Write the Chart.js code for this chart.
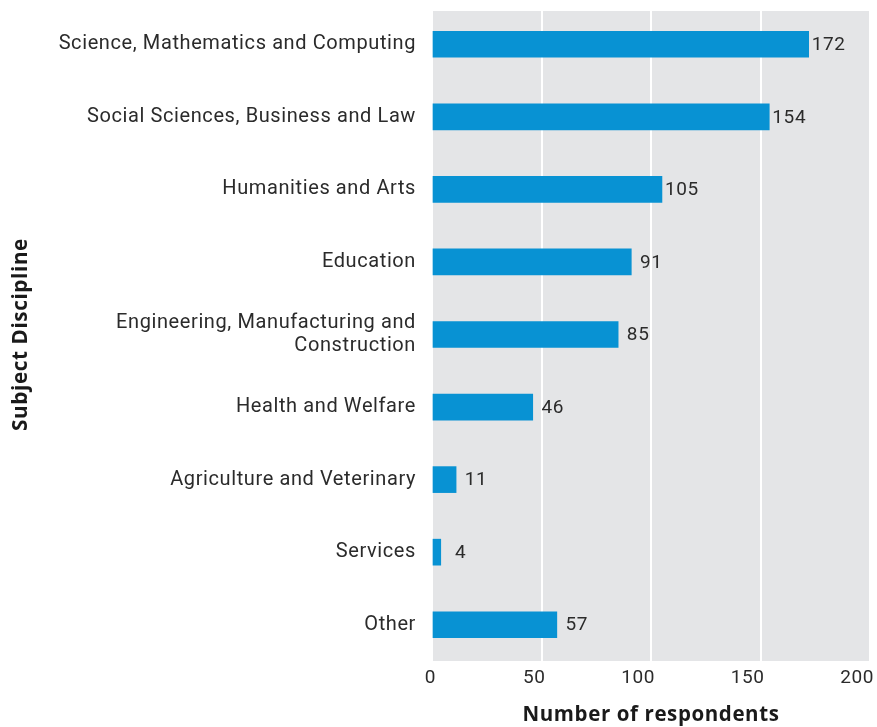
<!DOCTYPE html>
<html>
<head>
<meta charset="utf-8">
<script src="https://cdn.jsdelivr.net/npm/chart.js@4.4.0/dist/chart.umd.min.js"></script>
<style>
  html, body { margin: 0; padding: 0; background: #ffffff; }
  #wrap { width: 877px; height: 727px; position: relative; }
</style>
</head>
<body>
<div id="wrap"><canvas id="c" width="877" height="727"></canvas></div>
<script>
const categories = [
  'Science, Mathematics and Computing',
  'Social Sciences, Business and Law',
  'Humanities and Arts',
  'Education',
  ['Engineering, Manufacturing and', 'Construction'],
  'Health and Welfare',
  'Agriculture and Veterinary',
  'Services',
  'Other'
];
const respondents = [172, 154, 105, 91, 85, 46, 11, 4, 57];
const xTicks = [0, 50, 100, 150, 200];

const labelFont = "Roboto, 'DejaVu Sans', sans-serif";
const titleFont = "'Open Sans', 'DejaVu Sans', sans-serif";
const textColor = '#2b2b2b';

// slightly open tracking for all canvas text
const tracking = {
  id: 'tracking',
  beforeUpdate(chart) { chart.ctx.letterSpacing = '0.6px'; },
  beforeDraw(chart) { chart.ctx.letterSpacing = '0.6px'; }
};

// grey panel behind the plotting area
const panelBg = {
  id: 'panelBg',
  beforeDraw(chart) {
    const { ctx, chartArea: a } = chart;
    ctx.save();
    ctx.fillStyle = '#e4e5e7';
    ctx.fillRect(a.left, a.top + 3, a.right - a.left, a.bottom - a.top - 3);
    ctx.restore();
  }
};

// value printed just past the end of each bar
const valueLabels = {
  id: 'valueLabels',
  afterDatasetsDraw(chart) {
    const { ctx } = chart;
    const meta = chart.getDatasetMeta(0);
    ctx.save();
    ctx.font = '19px ' + labelFont;
    ctx.fillStyle = textColor;
    ctx.textBaseline = 'middle';
    ctx.textAlign = 'center';
    meta.data.forEach((bar, i) => {
      const v = chart.data.datasets[0].data[i];
      ctx.fillText(String(v), bar.x + 20, bar.y + 1);
    });
    ctx.restore();
  }
};

new Chart(document.getElementById('c'), {
  type: 'bar',
  data: {
    labels: categories,
    datasets: [{
      data: respondents,
      backgroundColor: '#0892d3',
      borderWidth: 0,
      barThickness: 26
    }]
  },
  options: {
    indexAxis: 'y',
    responsive: false,
    animation: false,
    layout: { padding: { top: 8, right: 7, bottom: 0, left: 9 } },
    plugins: { legend: { display: false }, tooltip: { enabled: false } },
    scales: {
      x: {
        min: 0, max: 200,
        afterBuildTicks(scale) { scale.ticks = xTicks.map(v => ({ value: v })); },
        grid: { color: '#ffffff', lineWidth: 2, drawTicks: false, drawOnChartArea: true },
        border: { display: false },
        ticks: {
          color: textColor, font: { family: labelFont, size: 19 }, padding: 6,
          maxRotation: 0, align: 'end', labelOffset: 4
        },
        title: {
          display: true, text: 'Number of respondents', color: '#1a1a1a',
          font: { family: titleFont, size: 20.5, weight: 'bold' },
          padding: { top: 0, bottom: 0 }
        },
        afterFit(scale) {
          scale.height = 66;
          scale.paddingLeft = 0; scale.paddingRight = 0;
        }
      },
      y: {
        grid: { display: false, drawTicks: false },
        border: { display: false },
        ticks: {
          color: textColor, font: { family: labelFont, size: 20, lineHeight: 1.15 },
          padding: 16, autoSkip: false
        },
        title: {
          display: true, text: 'Subject Discipline', color: '#1a1a1a',
          font: { family: titleFont, size: 20.7, weight: 'bold' },
          padding: { top: 0, bottom: 0 }
        },
        afterFit(scale) {
          scale.width = 423;
          scale.paddingTop = 0; scale.paddingBottom = 0;
        }
      }
    }
  },
  plugins: [tracking, panelBg, valueLabels]
});
</script>
</body>
</html>
